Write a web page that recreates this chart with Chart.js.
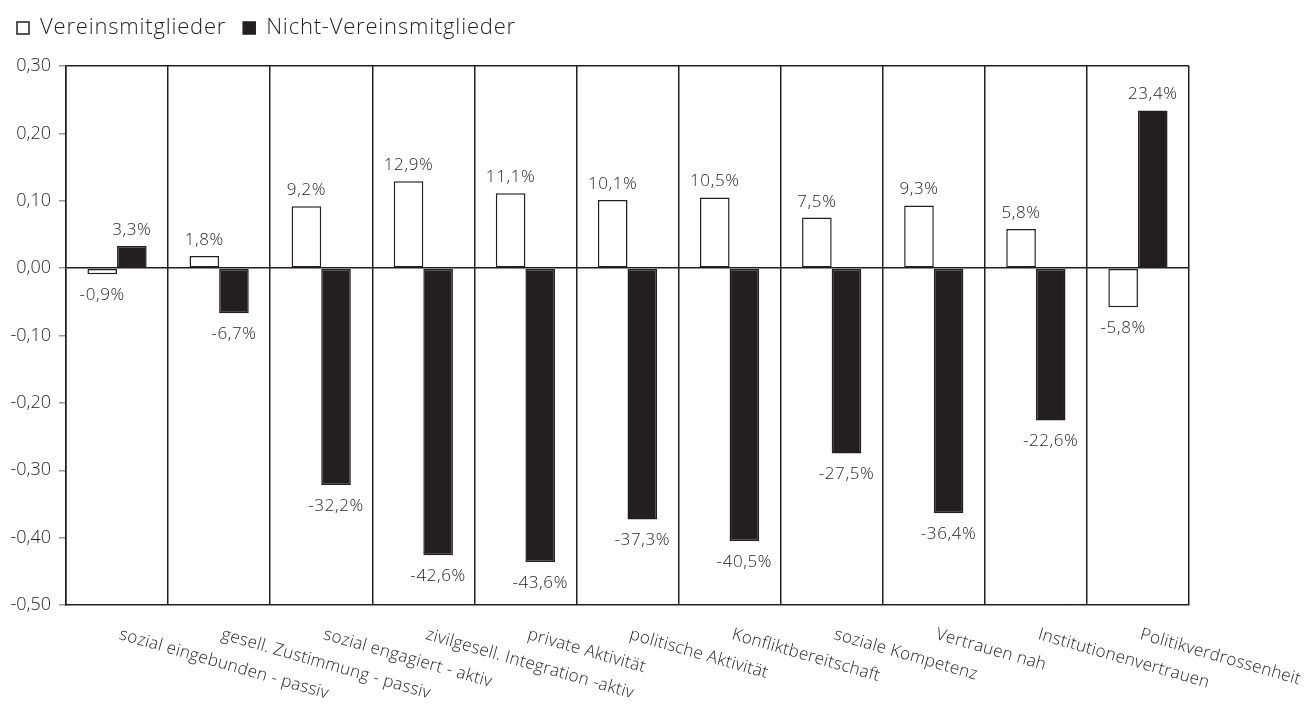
<!DOCTYPE html>
<html>
<head>
<meta charset="utf-8">
<script src="https://cdn.jsdelivr.net/npm/chart.js@4"></script>
<style>
  html, body { margin: 0; padding: 0; background: #fff; }
  #wrap { width: 1311px; height: 715px; position: relative; }
</style>
</head>
<body>
<div id="wrap"><canvas id="vereinChart"></canvas></div>
<script>
const categories = [
    'sozial eingebunden - passiv',
    'gesell. Zustimmung - passiv',
    'sozial engagiert - aktiv',
    'zivilgesell. Integration -aktiv',
    'private Aktivität',
    'politische Aktivität',
    'Konfliktbereitschaft',
    'soziale Kompetenz',
    'Vertrauen nah',
    'Institutionenvertrauen',
    'Politikverdrossenheit'
];
const mitglieder = [-0.009, 0.018, 0.092, 0.129, 0.111, 0.101, 0.105, 0.075, 0.093, 0.058, -0.058];
const nichtMitglieder = [0.033, -0.067, -0.322, -0.426, -0.436, -0.373, -0.405, -0.275, -0.364, -0.226, 0.234];
const seriesNames = ['Vereinsmitglieder', 'Nicht-Vereinsmitglieder'];

const FONT = "'Open Sans', 'Noto Sans', sans-serif";
const INK = '#231f20';

const fmtPct = v => (v * 100).toFixed(1).replace('.', ',') + '%';

// value labels above / below each bar
const valueLabels = {
    id: 'valueLabels',
    afterDatasetsDraw(chart) {
        const ctx = chart.ctx;
        ctx.save();
        ctx.font = '300 17px ' + FONT;
        ctx.letterSpacing = '0.6px';
        ctx.fillStyle = INK;
        ctx.textAlign = 'center';
        ctx.textBaseline = 'alphabetic';
        chart.data.datasets.forEach((ds, di) => {
            chart.getDatasetMeta(di).data.forEach((bar, i) => {
                const v = ds.data[i];
                if (v >= 0) {
                    ctx.fillText(fmtPct(v), bar.x, bar.y - 11);
                } else {
                    ctx.fillText(fmtPct(v), bar.x, bar.y + 26);
                }
            });
        });
        ctx.restore();
    }
};

// slanted category labels, running down to the right
const slantLabels = {
    id: 'slantLabels',
    afterDraw(chart) {
        const ctx = chart.ctx;
        const xs = chart.scales.x;
        ctx.save();
        ctx.font = '300 17px ' + FONT;
        ctx.letterSpacing = '0.3px';
        ctx.fillStyle = INK;
        ctx.textAlign = 'left';
        ctx.textBaseline = 'top';
        categories.forEach((lab, i) => {
            const x = xs.getPixelForTick(i) + 5;
            ctx.save();
            ctx.translate(x, chart.chartArea.bottom + 21);
            ctx.rotate(16 * Math.PI / 180);
            ctx.fillText(lab, 0, 0);
            ctx.restore();
        });
        ctx.restore();
    }
};

// fixed legend height + a bit of letter spacing for the legend text
const legendTweak = {
    id: 'legendTweak',
    beforeInit(chart) {
        const lg = chart.legend;
        const fit = lg.fit;
        const draw = lg.draw;
        lg.fit = function () {
            this.ctx.save();
            this.ctx.letterSpacing = '0.8px';
            fit.bind(this)();
            this.ctx.restore();
            this.height = 66;
        };
        lg.draw = function () {
            this.ctx.save();
            this.ctx.letterSpacing = '0.8px';
            draw.bind(this)();
            this.ctx.restore();
        };
    }
};

new Chart(document.getElementById('vereinChart').getContext('2d'), {
    type: 'bar',
    data: {
        labels: categories,
        datasets: [{
            label: seriesNames[0],
            data: mitglieder,
            backgroundColor: '#ffffff',
            borderColor: INK,
            borderWidth: 1.5,
            borderSkipped: false,
            categoryPercentage: 0.58,
            barPercentage: 1.0
        }, {
            label: seriesNames[1],
            data: nichtMitglieder,
            backgroundColor: INK,
            borderColor: INK,
            borderWidth: 1.5,
            borderSkipped: false,
            categoryPercentage: 0.58,
            barPercentage: 1.0
        }]
    },
    options: {
        responsive: true,
        maintainAspectRatio: false,
        animation: false,
        layout: { padding: { left: 0, right: 122, top: 0, bottom: 0 } },
        plugins: {
            legend: {
                position: 'top',
                align: 'start',
                labels: {
                    boxWidth: 12,
                    boxHeight: 12,
                    padding: 17,
                    color: INK,
                    font: { family: FONT, size: 22, weight: '300' }
                }
            },
            tooltip: { enabled: false }
        },
        scales: {
            x: {
                grid: {
                    offset: true,
                    color: INK,
                    lineWidth: 1.5,
                    drawTicks: false
                },
                border: { color: INK, width: 1.5 },
                ticks: { display: false },
                afterFit(scale) { scale.height = 110; }
            },
            y: {
                min: -0.5,
                max: 0.3,
                ticks: {
                    stepSize: 0.1,
                    padding: 8,
                    color: INK,
                    font: { family: FONT, size: 18, weight: '300' },
                    callback: v => v.toFixed(2).replace('.', ',')
                },
                grid: {
                    color: c => (Math.abs(c.tick.value) < 1e-9 || Math.abs(c.tick.value - 0.3) < 1e-9) ? INK : 'rgba(0,0,0,0)',
                    lineWidth: 1.5,
                    tickColor: '#999',
                    tickLength: 7
                },
                border: { color: INK, width: 1.5 },
                afterFit(scale) { scale.width = 66; }
            }
        }
    },
    plugins: [legendTweak, valueLabels, slantLabels]
});
</script>
</body>
</html>
